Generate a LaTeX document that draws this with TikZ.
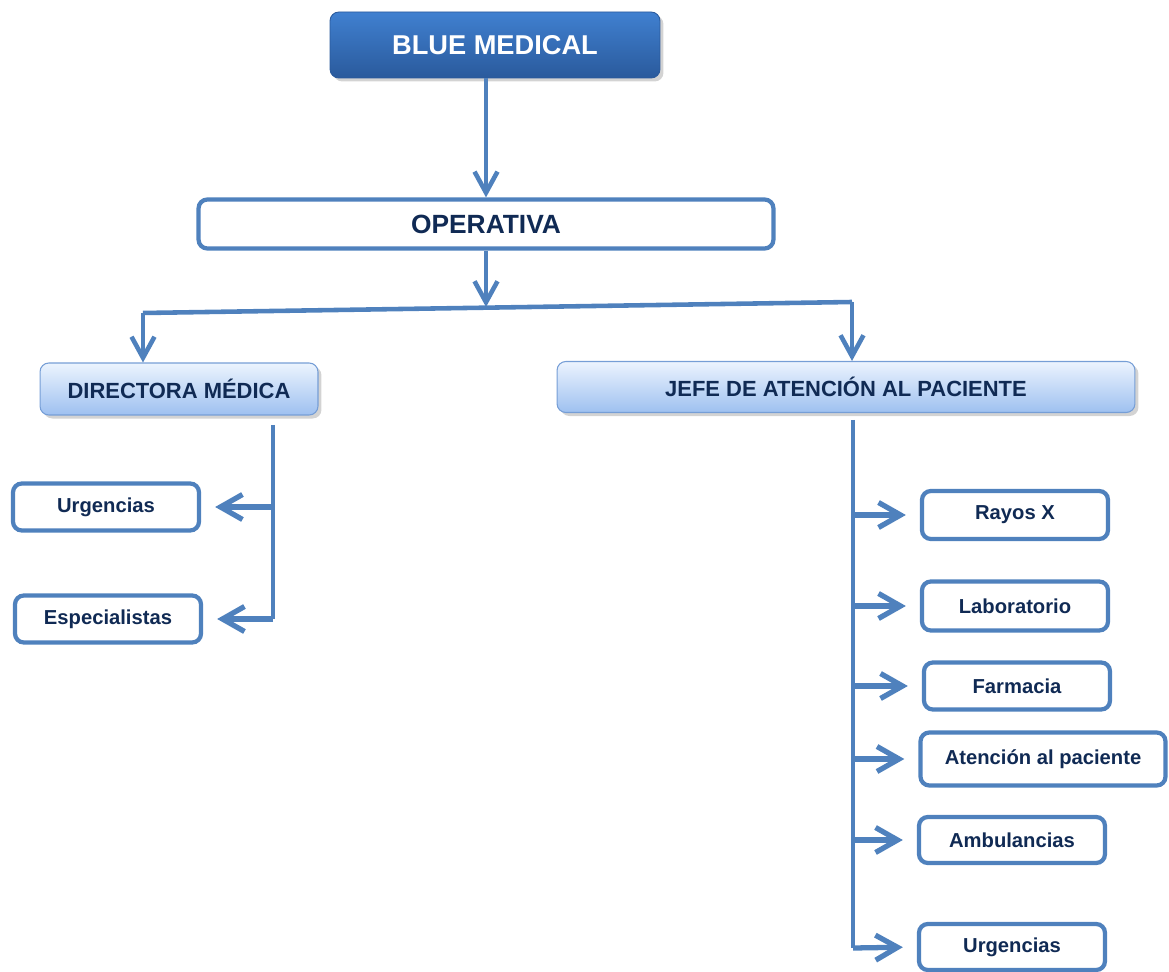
\documentclass[tikz,border=0pt]{standalone}
\usepackage{fontspec}
\setmainfont{Liberation Sans}
\usepackage{tikz}
\usetikzlibrary{arrows.meta,shadows}
\definecolor{lineblue}{RGB}{79,129,189}
\definecolor{navytext}{RGB}{16,42,84}
\definecolor{headtop}{RGB}{64,128,208}
\definecolor{headbot}{RGB}{42,90,156}
\definecolor{paletop}{RGB}{236,244,254}
\definecolor{palebot}{RGB}{158,192,240}
\definecolor{paleline}{RGB}{118,158,214}

\begin{document}
\begin{tikzpicture}[x=0.02cm, y=-0.02cm,
  mainbox/.style={rectangle, rounded corners=5pt, draw=headbot, line width=0.5pt,
    top color=headtop, bottom color=headbot, text=white, font=\bfseries\fontsize{15.5}{18}\selectfont,
    drop shadow={shadow xshift=2pt, shadow yshift=-2pt, opacity=0.35}},
  areabox/.style={rectangle, rounded corners=5pt, draw=lineblue, line width=2.4pt, fill=white,
    text=navytext, font=\bfseries\fontsize{15}{18}\selectfont},
  chiefbox/.style={rectangle, rounded corners=5pt, draw=paleline, line width=0.6pt,
    top color=paletop, bottom color=palebot, text=navytext,
    font=\bfseries\fontsize{12.5}{15}\selectfont,
    drop shadow={shadow xshift=2pt, shadow yshift=-2pt, opacity=0.35}},
  unitbox/.style={rectangle, rounded corners=5pt, draw=lineblue, line width=2.4pt, fill=white,
    text=navytext, font=\bfseries\fontsize{11.5}{14}\selectfont,
    minimum width=3.72cm, minimum height=0.94cm},
  link/.style={draw=lineblue, line width=2.6pt},
  arrowlink/.style={link, -{Straight Barb[length=0.42cm, width=0.46cm]}},
  sidearrow/.style={link, line width=3pt, shorten >=8pt, -{Straight Barb[length=0.44cm, width=0.5cm]}}]
  \useasboundingbox (0,0) rectangle (1169,972);

  % Top levels
  \node[mainbox, minimum width=6.6cm, minimum height=1.32cm] (blue) at (495,45) {BLUE MEDICAL};
  \node[areabox, minimum width=11.5cm, minimum height=0.98cm] (oper) at (486,224) {OPERATIVA};
  \node[chiefbox, minimum width=5.56cm, minimum height=1.04cm] (dir) at (179,389) {DIRECTORA  MÉDICA};
  \node[chiefbox, minimum width=11.56cm, minimum height=1.02cm] (jefe) at (846,387) {JEFE DE ATENCIÓN  AL PACIENTE};

  % Units under the medical director
  \node[unitbox] (urgA) at (106,507) {Urgencias};
  \node[unitbox] (esp) at (108,619) {Especialistas};

  % Units under patient care
  \node[unitbox, minimum height=0.96cm] (rayos) at (1015,515) {Rayos  X};
  \node[unitbox, minimum height=0.98cm] (lab) at (1015,606) {Laboratorio};
  \node[unitbox] (farm) at (1017,686) {Farmacia};
  \node[unitbox, minimum width=4.9cm, minimum height=1.06cm] (aten) at (1043,759) {Atención  al paciente};
  \node[unitbox, minimum height=0.92cm] (amb) at (1012,840) {Ambulancias};
  \node[unitbox, minimum height=0.92cm] (urgB) at (1012,947) {Urgencias};

  % Branch points
  \coordinate (mid) at (486,307);
  \coordinate (left) at (143,313);
  \coordinate (right) at (852,302);
  \coordinate (dtop) at (273,425);
  \coordinate (jtop) at (853,420);
  \coordinate (jbot) at (853,948);

  \draw[arrowlink] (oper.north |- blue.south) -- (oper.north);
  \draw[arrowlink] (oper.south) -- (mid);
  \draw[link] (left) -- (right);
  \draw[arrowlink] (left) -- (left |- dir.north);
  \draw[arrowlink] (right) -- (right |- jefe.north);

  \draw[link] (dtop) -- (dtop |- esp.east);
  \draw[sidearrow] (dtop |- urgA.east) -- (urgA.east);
  \draw[sidearrow] (dtop |- esp.east) -- (esp.east);

  \draw[link] (jtop) -- (jbot);
  \draw[sidearrow] (jtop |- rayos.west) -- (rayos.west);
  \draw[sidearrow] (jtop |- lab.west) -- (lab.west);
  \draw[sidearrow] (jtop |- farm.west) -- (farm.west);
  \draw[sidearrow] (jtop |- aten.west) -- (aten.west);
  \draw[sidearrow] (jtop |- amb.west) -- (amb.west);
  \draw[sidearrow] (jbot) -- (urgB.west);
\end{tikzpicture}
\end{document}
